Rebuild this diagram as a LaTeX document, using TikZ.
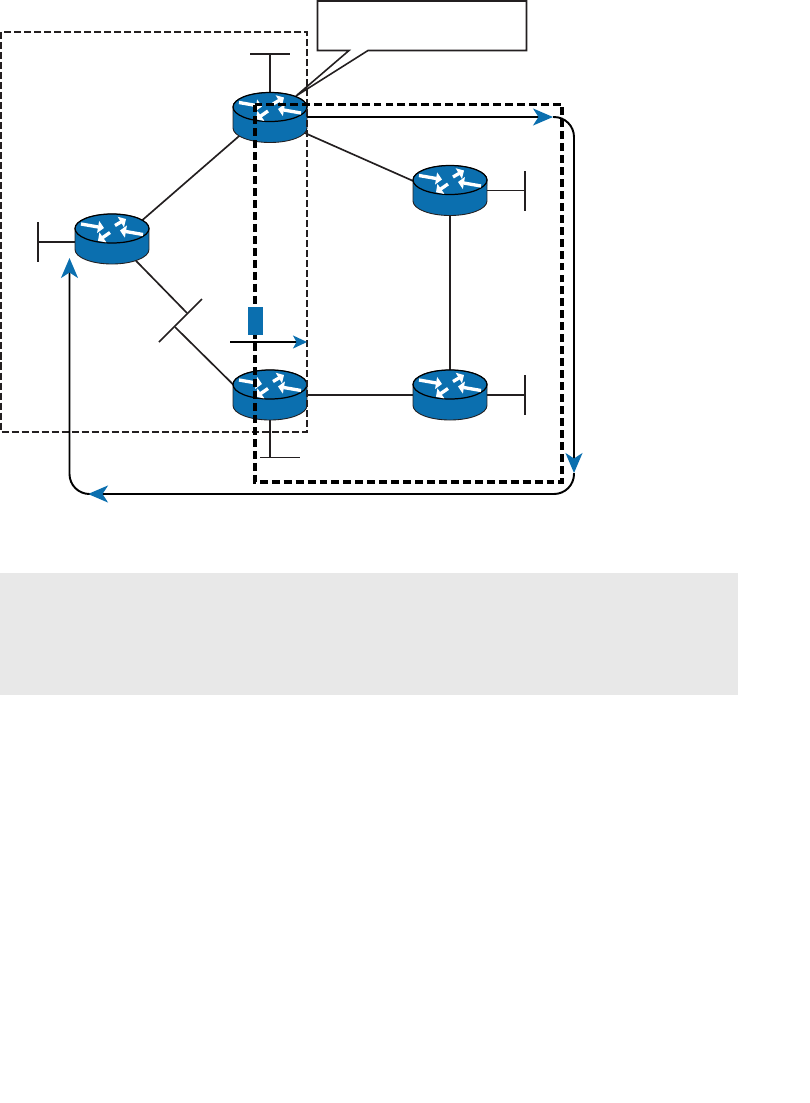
\documentclass[tikz,border=0pt]{standalone}
\usepackage{xcolor}
\usepackage{tikz}
\usetikzlibrary{arrows.meta, shapes.geometric}

\definecolor{routerblue}{HTML}{0B6FAF}
\definecolor{bandgray}{HTML}{E8E8E8}
\definecolor{inkdark}{HTML}{231F20}

\begin{document}
\begin{tikzpicture}[
    x=0.02cm, y=-0.02cm,
    routerbox/.style={ellipse, inner sep=0pt, minimum width=1.48cm, minimum height=1cm},
    wire/.style={draw=inkdark, line width=0.95pt},
    thinzone/.style={draw=inkdark, line width=0.85pt, dash pattern=on 4pt off 1.7pt},
    thickzone/.style={draw=black, line width=2.1pt, dash pattern=on 4.5pt off 2.3pt},
    flow/.style={draw=black, line width=1.1pt, rounded corners=0.4cm, -{Stealth[length=0.4cm, width=0.34cm, inset=0.11cm, routerblue]}},
    whitearrow/.style={draw=white, line width=1.9pt, -{Triangle[length=0.12cm, width=0.24cm]}},
    router/.pic={
        \path[fill=routerblue, draw=inkdark, line width=0.5pt] (-37,-10.5) -- (-37,10.5)
            arc[start angle=180, end angle=360, x radius=0.74cm, y radius=0.29cm]
            -- (37,-10.5)
            arc[start angle=0, end angle=180, x radius=0.74cm, y radius=0.29cm] -- cycle;
        \draw[draw=black, line width=0.7pt, fill=routerblue] (0,-10.5) ellipse[x radius=0.74cm, y radius=0.29cm];
        \draw[whitearrow] (-31,-15) -- (-8,-11);
        \draw[whitearrow] (3,-13.5) -- (14,-20);
        \draw[whitearrow] (31,-4.5) -- (8,-8.5);
        \draw[whitearrow] (-2,-6.5) -- (-14,1.8);
    }
]
    \useasboundingbox (0,0) rectangle (810,1103);

    % Band below the drawing
    \fill[bandgray] (0,573) rectangle (738,695);

    % Routers
    \node[routerbox] (rA) at (270,117.5) {};
    \node[routerbox] (rB) at (112,239) {};
    \node[routerbox] (rC) at (450,190.5) {};
    \node[routerbox] (rD) at (270,395) {};
    \node[routerbox] (rE) at (450,395) {};

    % Stub ends and flow corners
    \coordinate (barA) at (270,54);
    \coordinate (barB) at (38,242);
    \coordinate (barC) at (525,190.5);
    \coordinate (barD) at (270,457.5);
    \coordinate (barE) at (525,395);
    \coordinate (swUp) at (187,313);
    \coordinate (swLo) at (175,327);
    \coordinate (tipTop) at (553,117);
    \coordinate (tipRight) at (574,473);
    \coordinate (tipBottom) at (88,494);
    \coordinate (tipLeft) at (69.5,258);

    % Links
    \draw[wire] (rA.210) -- (rB.31);
    \draw[wire] (rA.-24) -- (rC.166);
    \draw[wire] (rB.-42) -- (swUp);
    \draw[wire] (swLo) -- (rD.166);
    \draw[wire] (rD) -- (rE);
    \draw[wire] (rC) -- (rE);

    % Stubs
    \draw[wire] (rA) -- (barA);
    \draw[wire] (250,54) -- (290,54);
    \draw[wire] (rB |- barB) -- (barB);
    \draw[wire] (38,222) -- (38,262);
    \draw[wire] (rC) -- (barC);
    \draw[wire] (525,171) -- (525,211);
    \draw[wire] (rD) -- (barD);
    \draw[wire] (260,457.5) -- (300,457.5);
    \draw[wire] (rE) -- (barE);
    \draw[wire] (525,375) -- (525,415);
    \draw[wire] (159,342) -- (202,299);

    % Callout
    \draw[draw=inkdark, line width=0.9pt, fill=white] (317.5,1) -- (526.5,1) -- (526.5,50.5) -- (368,50.5)
        -- (296,96) -- (349,50.5) -- (317.5,50.5) -- cycle;

    \pic at (rA) {router};
    \pic at (rB) {router};
    \pic at (rC) {router};
    \pic at (rD) {router};
    \pic at (rE) {router};

    % Zones
    \draw[thinzone] (1,32) rectangle (307,432);
    \draw[thickzone] (255,104.5) rectangle (562,482);

    % Flow around the right zone
    \draw[flow] (rA.east |- tipTop) -- (tipTop);
    \draw[flow] (tipTop) -- (574,117) -- (tipRight);
    \draw[flow] (tipRight) -- (574,494) -- (tipBottom);
    \draw[flow] (tipBottom) -- (69.5,494) -- (tipLeft);

    % Marker and short arrow
    \node[fill=routerblue, inner sep=0pt, minimum width=0.3cm, minimum height=0.57cm] (marker) at (255.5,321) {};
    \coordinate (shortFrom) at (230,342);
    \coordinate (shortTo) at (307,342);
    \draw[draw=black, line width=0.85pt, -{Stealth[length=0.28cm, width=0.26cm, inset=0.07cm, routerblue]}] (shortFrom) -- (shortTo);
\end{tikzpicture}
\end{document}
